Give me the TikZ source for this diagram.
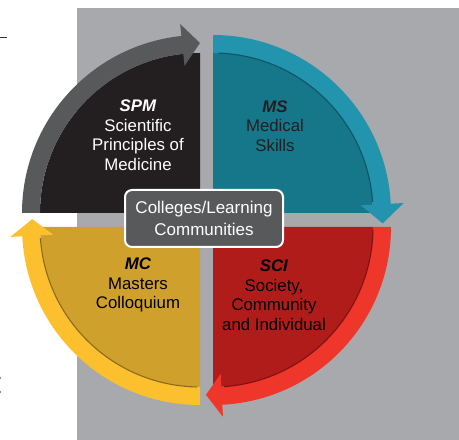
\documentclass[tikz,border=0pt]{standalone}
\usepackage{fontspec}
\setmainfont{Liberation Sans}
\definecolor{bggrey}{HTML}{A7A9AC}
\definecolor{spmfill}{HTML}{231F20}
\definecolor{spmarrow}{HTML}{58595B}
\definecolor{msfill}{HTML}{16778A}
\definecolor{msarrow}{HTML}{2394AE}
\definecolor{msedge}{HTML}{0E5565}
\definecolor{scifill}{HTML}{B01C19}
\definecolor{sciarrow}{HTML}{EF362A}
\definecolor{sciedge}{HTML}{7E1210}
\definecolor{mcfill}{HTML}{D0A02C}
\definecolor{mcarrow}{HTML}{FCC02F}
\definecolor{mcedge}{HTML}{8A6A1C}
\definecolor{boxgrey}{HTML}{58595B}
\begin{document}
\begin{tikzpicture}[x=1pt,y=1pt,
  quadtext/.style={align=center,inner sep=0pt,font=\fontsize{16.8}{19.5}\selectfont},
  rim/.style={line width=1.1pt}]
  \useasboundingbox (0,0) rectangle (459,440);
  \fill[bggrey] (77,0) rectangle (459,432);
  \draw[line width=1.5pt,black!80] (0,402.5) -- (7,402.5);
  \fill[black!45] (0,61) rectangle (1.2,63);
  \fill[black!45] (0,47) rectangle (1.2,49);
  \coordinate (spm) at (200,227) ;
  \coordinate (ms) at (213,227) ;
  \coordinate (sci) at (213,213) ;
  \coordinate (mc) at (200,213) ;
  \fill[spmfill] (spm) -- ++(-160,0) arc[start angle=180,end angle=90,radius=160] -- cycle;
  \fill[msfill] (ms) -- ++(0,160) arc[start angle=90,end angle=0,radius=160] -- cycle;
  \fill[scifill] (sci) -- ++(160,0) arc[start angle=0,end angle=-90,radius=160] -- cycle;
  \fill[mcfill] (mc) -- ++(0,-160) arc[start angle=270,end angle=180,radius=160] -- cycle;
  \begin{scope}[shift={(spm)}]
    \fill[spmarrow] (180:160) -- (180:178) arc[start angle=180,end angle=96,radius=178]
      -- (96:190) -- (90:170) -- (96:148) -- (96:160)
      arc[start angle=96,end angle=180,radius=160] -- cycle;
  \end{scope}
  \begin{scope}[shift={(ms)}]
    \fill[msarrow] (90:160) -- (90:178) arc[start angle=90,end angle=3,radius=178]
      -- (3:191) -- (-3.5:170) -- (3:148) -- (3:160)
      arc[start angle=3,end angle=90,radius=160] -- cycle;
    \draw[rim,msedge] (88:160) arc[start angle=88,end angle=4,radius=160];
  \end{scope}
  \begin{scope}[shift={(sci)}]
    \fill[sciarrow] (0:160) -- (0:178) arc[start angle=0,end angle=-87,radius=178]
      -- (-87:190) -- (-92.4:168) -- (-87:147) -- (-87:160)
      arc[start angle=-87,end angle=0,radius=160] -- cycle;
    \draw[rim,sciedge] (-1:160) arc[start angle=-1,end angle=-86,radius=160];
  \end{scope}
  \begin{scope}[shift={(mc)}]
    \fill[mcarrow] (270:160) -- (270:178) arc[start angle=270,end angle=183,radius=178]
      -- (183:190) -- (177.3:168) -- (183:147) -- (183:160)
      arc[start angle=183,end angle=270,radius=160] -- cycle;
    \draw[rim,mcedge] (269:160) arc[start angle=269,end angle=184,radius=160];
  \end{scope}
  \node (spmtext) at (138,305) [quadtext,text=white] {\textbf{\textit{SPM}}\\Scientific\\Principles of\\Medicine};
  \node (mstext) at (275,314) [quadtext,text=spmfill] {\textbf{\textit{MS}}\\Medical\\Skills};
  \node (scitext) at (274,145) [quadtext,text=black] {\textbf{\textit{SCI}}\\Society,\\Community\\and Individual};
  \node (mctext) at (138,155) [quadtext,text=black] {\textbf{\textit{MC}}\\Masters\\Colloquium};
  \node (colleges) at (204,221.5) [draw=white,line width=2pt,fill=boxgrey,rounded corners=7pt,
    minimum width=158,minimum height=57,align=center,text=white,inner sep=0pt,
    font=\fontsize{17}{22}\selectfont] {Colleges/Learning\\Communities};
\end{tikzpicture}
\end{document}
